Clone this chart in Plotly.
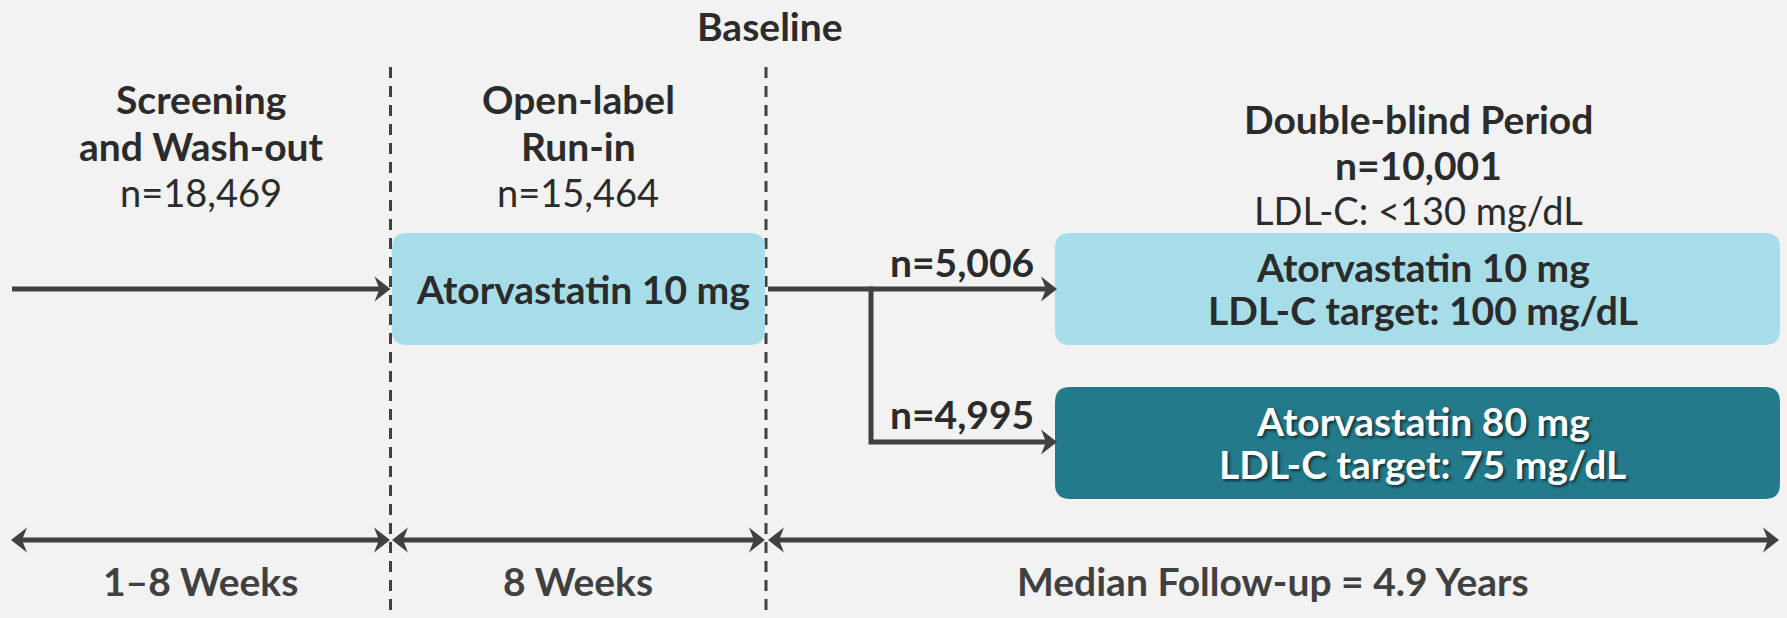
import plotly.graph_objects as go

# ---- study content -------------------------------------------------------
baseline_label = "Baseline"
phase_titles = [["Screening", "and Wash-out"], ["Open-label", "Run-in"], ["Double-blind Period"]]
phase_counts = ["n=18,469", "n=15,464", "n=10,001"]
entry_criterion = "LDL-C: <130 mg/dL"
runin_drug = "Atorvastatin 10 mg"
arm_counts = ["n=5,006", "n=4,995"]
arm_doses = ["Atorvastatin 10 mg", "Atorvastatin 80 mg"]
arm_targets = ["LDL-C target: 100 mg/dL", "LDL-C target: 75 mg/dL"]
durations = ["1–8 Weeks", "8 Weeks", "Median Follow-up = 4.9 Years"]

# ---- canvas geometry (pixel space) ---------------------------------------
W, H = 1787, 618
BG = "#f2f2f2"
INK = "#404040"
TEXT = "#2b2b2b"
LIGHT = "#a6dde9"
TEAL = "#237a8b"
FONT = "Lato"
FS = 39
FS_REG = 38

divider_x = [390.5, 766]
divider_top = 67
col_x = [201, 578, 1418]
title_y = [[99, 146], [99, 146], [119]]
count_y = [192, 192, 165]
criterion_y = 210

runin_box = (392, 765, 233, 345)
arm_box_x = (1055, 1780)
arm_box_y = [(233, 345), (387, 499)]
arm_line_y = [289, 442]
branch_x = 871
arm_label_x = 962
arm_label_y = [262, 414]

timeline_y = 540
timeline_segments = [(11, 390), (392, 765), (768, 1779)]
duration_x = [200, 578, 1273]
duration_y = 581

LW = 5
HEAD_L, HEAD_H, NOTCH = 16, 12.5, 5


def rounded_rect(x0, x1, y0, y1, r):
    return (f"M{x0 + r},{y0} L{x1 - r},{y0} Q{x1},{y0} {x1},{y0 + r} "
            f"L{x1},{y1 - r} Q{x1},{y1} {x1 - r},{y1} L{x0 + r},{y1} "
            f"Q{x0},{y1} {x0},{y1 - r} L{x0},{y0 + r} Q{x0},{y0} {x0 + r},{y0} Z")


def head(tip_x, y, d):
    """Notched arrowhead with its tip at (tip_x, y); d=+1 points right, -1 left."""
    bx = tip_x - d * HEAD_L
    nx = tip_x - d * (HEAD_L - NOTCH)
    return dict(type="path", xref="x", yref="y",
                path=f"M{tip_x},{y} L{bx},{y - HEAD_H} L{nx},{y} L{bx},{y + HEAD_H} Z",
                fillcolor=INK, line=dict(width=0), layer="above")


def seg(x0, y0, x1, y1):
    return dict(type="line", xref="x", yref="y", x0=x0, y0=y0, x1=x1, y1=y1,
                line=dict(color=INK, width=LW), layer="above")


shapes = []
annotations = []


def label(x, y, text, bold=True, color=TEXT, size=None, shadow=None):
    if size is None:
        size = FS if bold else FS_REG
    font = dict(family=FONT, size=size, color=color, weight=700 if bold else 400)
    if shadow:
        font["shadow"] = shadow
    annotations.append(dict(x=x, y=y, xref="x", yref="y", text=text, showarrow=False,
                            xanchor="center", yanchor="middle", font=font))


# dashed phase dividers
for dx in divider_x:
    shapes.append(dict(type="line", xref="x", yref="y", x0=dx, x1=dx, y0=divider_top, y1=H,
                       line=dict(color=INK, width=3, dash="11px,8px"), layer="below"))

# boxes
x0, x1, y0, y1 = runin_box
shapes.append(dict(type="path", xref="x", yref="y", path=rounded_rect(x0, x1, y0, y1, 15),
                   fillcolor=LIGHT, line=dict(width=0), layer="below"))
for (by0, by1), fill in zip(arm_box_y, [LIGHT, TEAL]):
    shapes.append(dict(type="path", xref="x", yref="y",
                       path=rounded_rect(arm_box_x[0], arm_box_x[1], by0, by1, 15),
                       fillcolor=fill, line=dict(width=0), layer="below"))

# entry arrow into run-in
shapes.append(seg(12, arm_line_y[0], divider_x[0] - HEAD_L + NOTCH + 1, arm_line_y[0]))
shapes.append(head(divider_x[0], arm_line_y[0], 1))

# randomisation branch
tip = arm_box_x[0] + 2
shapes.append(seg(runin_box[1] + 3, arm_line_y[0], tip - HEAD_L + NOTCH + 1, arm_line_y[0]))
shapes.append(head(tip, arm_line_y[0], 1))
shapes.append(dict(type="path", xref="x", yref="y",
                   path=f"M{branch_x},{arm_line_y[0] - LW / 2} V{arm_line_y[1]} H{tip - HEAD_L + NOTCH + 1}",
                   line=dict(color=INK, width=LW), layer="above"))
shapes.append(head(tip, arm_line_y[1], 1))

# timeline
for a, b in timeline_segments:
    shapes.append(seg(a + HEAD_L - NOTCH - 1, timeline_y, b - HEAD_L + NOTCH + 1, timeline_y))
    shapes.append(head(a, timeline_y, -1))
    shapes.append(head(b, timeline_y, 1))

# text
label(770, 26, baseline_label)
for cx, lines, ys in zip(col_x, phase_titles, title_y):
    for t, ty in zip(lines, ys):
        label(cx, ty, t)
for i, (cx, n) in enumerate(zip(col_x, phase_counts)):
    label(cx, count_y[i], n, bold=(i == 2))
label(col_x[2], criterion_y, entry_criterion, bold=False)

label((runin_box[0] + runin_box[1]) / 2 + 4, (runin_box[2] + runin_box[3]) / 2, runin_drug)

arm_cx = (arm_box_x[0] + arm_box_x[1]) / 2 + 5
for i in range(2):
    by0, by1 = arm_box_y[i]
    light = i == 0
    col = TEXT if light else "#ffffff"
    sh = None if light else "2px 2px 3px rgba(0,0,0,0.6)"
    label(arm_cx, by0 + 34, arm_doses[i], color=col, shadow=sh)
    label(arm_cx, by0 + 77, arm_targets[i], color=col, shadow=sh)
    label(arm_label_x, arm_label_y[i], arm_counts[i])

for dx, t in zip(duration_x, durations):
    label(dx, duration_y, t, color=INK)

fig = go.Figure()
fig.add_trace(go.Scatter(x=[0, W], y=[0, H], mode="markers", marker=dict(opacity=0),
                         hoverinfo="skip", showlegend=False))
fig.update_layout(
    width=W, height=H, margin=dict(l=0, r=0, t=0, b=0),
    paper_bgcolor=BG, plot_bgcolor=BG, showlegend=False,
    xaxis=dict(range=[0, W], visible=False, fixedrange=True),
    yaxis=dict(range=[H, 0], visible=False, fixedrange=True),
    shapes=shapes, annotations=annotations,
)
fig.write_html("out.html")
